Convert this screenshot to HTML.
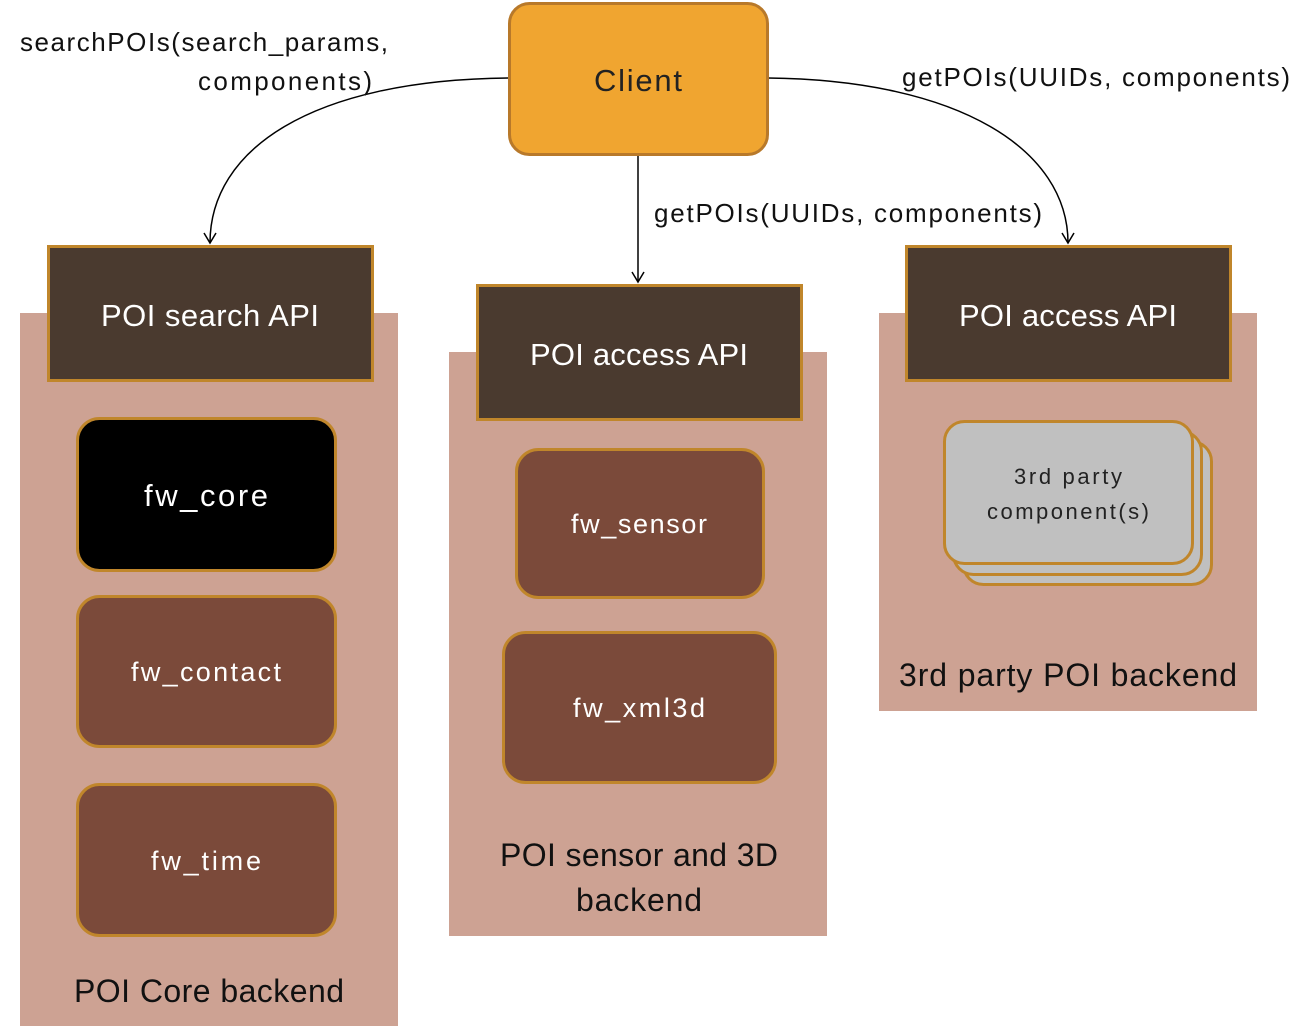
<!DOCTYPE html>
<html><head><meta charset="utf-8"><style>
html,body{margin:0;padding:0;background:#fff;}
svg{display:block;font-family:"Liberation Sans",sans-serif;}
</style></head><body>
<svg width="1314" height="1036" viewBox="0 0 1314 1036" xmlns="http://www.w3.org/2000/svg">
<defs>
<marker id="ar" markerWidth="14" markerHeight="14" refX="12" refY="7" orient="auto" markerUnits="userSpaceOnUse">
<path d="M2,1 L12,7 L2,13" fill="none" stroke="#000" stroke-width="1.5"/>
</marker>
</defs>
<rect x="20" y="313" width="378" height="713" fill="#CDA293"/>
<rect x="449" y="352" width="378" height="584" fill="#CDA293"/>
<rect x="879" y="313" width="378" height="398" fill="#CDA293"/>

<path d="M508,78 C310,80 210,150 210,243" fill="none" stroke="#000" stroke-width="1.5" marker-end="url(#ar)"/>
<path d="M638,155 L638,282" fill="none" stroke="#000" stroke-width="1.5" marker-end="url(#ar)"/>
<path d="M768,78 C960,80 1068,150 1068,243" fill="none" stroke="#000" stroke-width="1.5" marker-end="url(#ar)"/>

<rect x="509.5" y="3.5" width="258" height="151" rx="20" fill="#F0A530" stroke="#B8792A" stroke-width="3"/>
<text x="638" y="91" font-size="31" text-anchor="middle" fill="#222" textLength="88">Client</text>

<rect x="48.5" y="246.5" width="324" height="134" fill="#4A3A2F" stroke="#C0862B" stroke-width="3"/>
<text x="210" y="326" font-size="31" text-anchor="middle" fill="#fff" textLength="218">POI search API</text>
<rect x="477.5" y="285.5" width="324" height="134" fill="#4A3A2F" stroke="#C0862B" stroke-width="3"/>
<text x="639" y="365" font-size="31" text-anchor="middle" fill="#fff" textLength="218">POI access API</text>
<rect x="906.5" y="246.5" width="324" height="134" fill="#4A3A2F" stroke="#C0862B" stroke-width="3"/>
<text x="1068" y="326" font-size="31" text-anchor="middle" fill="#fff" textLength="218">POI access API</text>

<rect x="77.5" y="418.5" width="258" height="152" rx="22" fill="#000" stroke="#C0862B" stroke-width="3"/>
<text x="206" y="506" font-size="31" text-anchor="middle" fill="#fff" textLength="124">fw_core</text>
<rect x="77.5" y="596.5" width="258" height="150" rx="22" fill="#7B4A3A" stroke="#C0862B" stroke-width="3"/>
<text x="206" y="681" font-size="27" text-anchor="middle" fill="#fff" textLength="150">fw_contact</text>
<rect x="77.5" y="784.5" width="258" height="151" rx="22" fill="#7B4A3A" stroke="#C0862B" stroke-width="3"/>
<text x="206" y="870" font-size="27" text-anchor="middle" fill="#fff" textLength="110">fw_time</text>
<rect x="516.5" y="449.5" width="247" height="148" rx="22" fill="#7B4A3A" stroke="#C0862B" stroke-width="3"/>
<text x="639" y="533" font-size="27" text-anchor="middle" fill="#fff" textLength="136">fw_sensor</text>
<rect x="503.5" y="632.5" width="272" height="150" rx="22" fill="#7B4A3A" stroke="#C0862B" stroke-width="3"/>
<text x="639" y="717" font-size="27" text-anchor="middle" fill="#fff" textLength="132">fw_xml3d</text>

<rect x="963.5" y="441.5" width="248" height="143" rx="20" fill="#C0C0C0" stroke="#C0862B" stroke-width="3"/>
<rect x="953.5" y="431.5" width="248" height="143" rx="20" fill="#C0C0C0" stroke="#C0862B" stroke-width="3"/>
<rect x="944.5" y="421.5" width="248" height="142" rx="20" fill="#C0C0C0" stroke="#C0862B" stroke-width="3"/>
<text x="1068" y="484" font-size="22" text-anchor="middle" fill="#222" textLength="108">3rd party</text>
<text x="1068" y="519" font-size="22" text-anchor="middle" fill="#222" textLength="162">component(s)</text>

<text x="209" y="1002" font-size="32" text-anchor="middle" fill="#111" textLength="270">POI Core backend</text>
<text x="639" y="866" font-size="32" text-anchor="middle" fill="#111" textLength="278">POI sensor and 3D</text>
<text x="639" y="911" font-size="32" text-anchor="middle" fill="#111" textLength="126">backend</text>
<text x="1068" y="686" font-size="32" text-anchor="middle" fill="#111" textLength="338">3rd party POI backend</text>

<text x="20" y="51" font-size="26" fill="#111" textLength="368">searchPOIs(search_params,</text>
<text x="198" y="90" font-size="26" fill="#111" textLength="174">components)</text>
<text x="654" y="222" font-size="26" fill="#111" textLength="388">getPOIs(UUIDs, components)</text>
<text x="902" y="86" font-size="26" fill="#111" textLength="388">getPOIs(UUIDs, components)</text>
</svg>
</body></html>
